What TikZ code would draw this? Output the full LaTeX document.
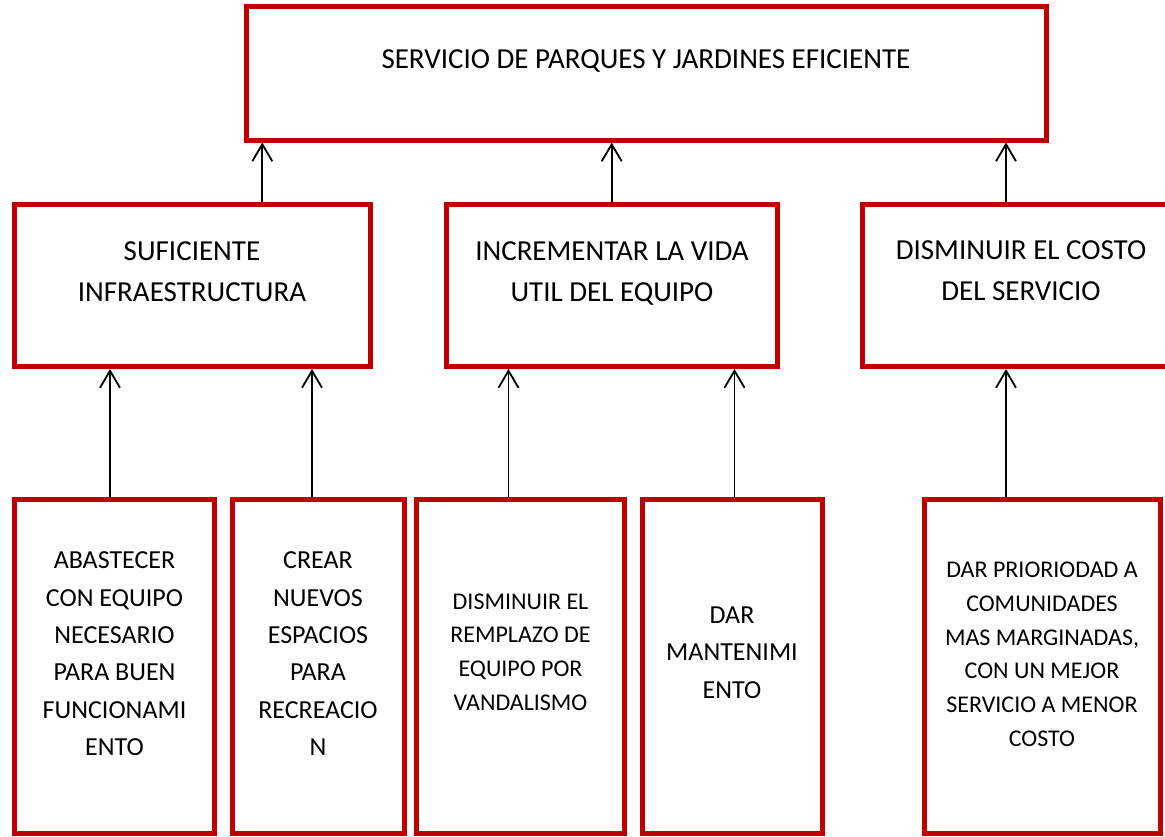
\documentclass[tikz,border=0pt]{standalone}
\usepackage{fontspec}
\setmainfont{Carlito}
\usetikzlibrary{arrows.meta}
\definecolor{boxred}{RGB}{192,0,0}
\tikzset{
  box/.style={draw=boxred, line width=5pt, rectangle, inner sep=0pt, fill=white},
  txt/.style={anchor=north, inner sep=0pt, align=center, text=black},
  bigtxt/.style={txt, font=\fontsize{29}{40.5}\selectfont},
  midtxt/.style={txt, font=\fontsize{26}{37.4}\selectfont},
  smalltxt/.style={txt, font=\fontsize{24}{33.8}\selectfont},
  conn/.style={draw=black, line width=1.8pt, -{Straight Barb[length=17pt,width=20pt,line width=1.8pt]}}
}
\begin{document}
\begin{tikzpicture}[x=1pt,y=-1pt]
\clip (0,0) rectangle (1165,836);
\fill[white] (0,0) rectangle (1165,836);
% top box
\node[box, minimum width=800pt, minimum height=133.3pt] (top) at (646,73.35) {};
% middle boxes
\node[box, minimum width=356pt, minimum height=162.5pt] (mA) at (192,285.25) {};
\node[box, minimum width=331pt, minimum height=162.5pt] (mB) at (612,285.25) {};
\node[box, minimum width=318pt, minimum height=162.5pt] (mC) at (1021.5,285.25) {};
% bottom boxes
\node[box, minimum width=200.5pt, minimum height=334.5pt] (b1) at (114.25,666.25) {};
\node[box, minimum width=171.5pt, minimum height=334.5pt] (b2) at (318.25,666.25) {};
\node[box, minimum width=208pt, minimum height=334.5pt] (b3) at (520.5,666.25) {};
\node[box, minimum width=179.5pt, minimum height=334.5pt] (b4) at (732.25,666.25) {};
\node[box, minimum width=235.5pt, minimum height=334.5pt] (b5) at (1042.25,666.25) {};
% texts
\node[bigtxt] (ttop) at (646,49) {SERVICIO DE PARQUES Y JARDINES EFICIENTE};
\node[bigtxt] (tA) at (192,241.7) {SUFICIENTE\\INFRAESTRUCTURA};
\node[bigtxt] (tB) at (612,241.7) {INCREMENTAR LA VIDA\\UTIL DEL EQUIPO};
\node[bigtxt] (tC) at (1021,240.5) {DISMINUIR EL COSTO\\DEL SERVICIO};
\node[midtxt] (t1) at (114.5,551.7) {ABASTECER\\CON EQUIPO\\NECESARIO\\PARA BUEN\\FUNCIONAMI\\ENTO};
\node[midtxt] (t2) at (318,551.7) {CREAR\\NUEVOS\\ESPACIOS\\PARA\\RECREACIO\\N};
\node[smalltxt] (t3) at (520.5,593.3) {DISMINUIR EL\\REMPLAZO DE\\EQUIPO POR\\VANDALISMO};
\node[midtxt] (t4) at (732,606.7) {DAR\\MANTENIMI\\ENTO};
\node[smalltxt] (t5) at (1042,561.7) {DAR PRIORIODAD A\\COMUNIDADES\\MAS MARGINADAS,\\CON UN MEJOR\\SERVICIO A MENOR\\COSTO};
% connectors
\draw[conn] (mA.north -| 262.3,0) -- (top.south -| 262.3,0);
\draw[conn] (mB.north -| 611.7,0) -- (top.south -| 611.7,0);
\draw[conn] (mC.north -| 1006,0) -- (top.south -| 1006,0);
\draw[conn] (b1.north -| 110,0) -- (mA.south -| 110,0);
\draw[conn] (b2.north -| 312,0) -- (mA.south -| 312,0);
\draw[conn] (b3.north -| 508.5,0) -- (mB.south -| 508.5,0);
\draw[conn] (b4.north -| 734.5,0) -- (mB.south -| 734.5,0);
\draw[conn] (b5.north -| 1006,0) -- (mC.south -| 1006,0);
\end{tikzpicture}
\end{document}
